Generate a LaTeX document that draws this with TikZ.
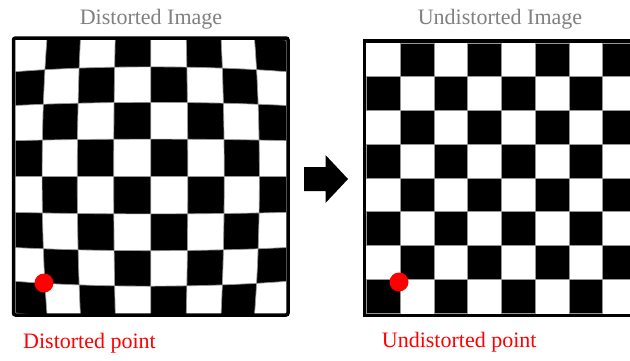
\documentclass[tikz,border=0pt]{standalone}
\usepackage{fontspec}
\setmainfont{Liberation Serif}
\newfontfamily\tnr{Liberation Serif}
\definecolor{titlegray}{RGB}{128,128,128}
\definecolor{cellgap}{RGB}{150,150,150}
\definecolor{ptred}{RGB}{255,0,0}
\begin{document}
\begin{tikzpicture}[x=1pt,y=-1pt,
  declare function={fd(\a,\b)=\a*(1-0.045*(\a*\a+\b*\b))/(1-0.09);},
  title/.style={font=\tnr\fontsize{22}{26}\selectfont, text=titlegray, inner sep=0pt, anchor=base},
  ptlabel/.style={font=\tnr\fontsize{22}{26}\selectfont, text=ptred, inner sep=0pt, anchor=base west},
  dot/.style={circle, fill=ptred, minimum size=19pt, inner sep=0pt},
  frameline/.style={line width=3.5pt, black},
  cell/.style={fill=black, draw=cellgap, line width=0.7pt},
  arrowshape/.style={fill=black}]
\useasboundingbox (0,0) rectangle (630,360);
\clip (0,0) rectangle (630,360);
\fill[white] (0,0) rectangle (630,360);
% distorted checkerboard
\begin{scope}
\clip (15.5,40) rectangle (286,313);
\foreach \i in {0,...,7}{
 \foreach \j in {0,...,7}{
  \pgfmathtruncatemacro\parity{mod(\i+\j,2)}
  \ifnum\parity=1
   \pgfmathsetmacro\ua{-1+0.25*\i}
   \pgfmathsetmacro\ub{\ua+0.25}
   \pgfmathsetmacro\va{-1+0.25*\j}
   \pgfmathsetmacro\vb{\va+0.25}
   \fill[cell] ({150.75+135.25*fd(\ua,\va)},{176.5+136.5*fd(\va,\ua)})
     \foreach \t in {0.0625,0.125,0.1875,0.25} { -- ({150.75+135.25*fd(\ua+\t,\va)},{176.5+136.5*fd(\va,\ua+\t)}) }
     \foreach \t in {0.0625,0.125,0.1875,0.25} { -- ({150.75+135.25*fd(\ub,\va+\t)},{176.5+136.5*fd(\va+\t,\ub)}) }
     \foreach \t in {0.0625,0.125,0.1875,0.25} { -- ({150.75+135.25*fd(\ub-\t,\vb)},{176.5+136.5*fd(\vb,\ub-\t)}) }
     \foreach \t in {0.0625,0.125,0.1875} { -- ({150.75+135.25*fd(\ua,\vb-\t)},{176.5+136.5*fd(\vb-\t,\ua)}) }
     -- cycle;
  \fi
 }}
\end{scope}
\draw[frameline, rounded corners=2pt] (13.5,38) rectangle (288,315);
% undistorted checkerboard
\foreach \i in {0,...,7}{
 \foreach \j in {0,...,7}{
  \pgfmathtruncatemacro\parity{mod(\i+\j,2)}
  \ifnum\parity=1
   \fill[cell] ({366.5+33.75*\i},{43+33.75*\j}) rectangle ++(33.75,33.75);
  \fi
 }}
\draw[frameline] (640,41) -- (364.5,41) -- (364.5,315.5) -- (640,315.5);
% arrow
\fill[arrowshape] (304,167) -- (325.5,167) -- (325.5,155) -- (348,179) -- (325.5,203) -- (325.5,191) -- (304,191) -- cycle;
% titles
\node[title] (t1) at (151,24) {Distorted Image};
\node[title] (t2) at (500,24) {Undistorted Image};
% points
\node[dot] (dp1) at (44,283) {};
\node[dot] (dp2) at (399,282) {};
\node[ptlabel] (l1) at (23,348) {Distorted point};
\node[ptlabel] (l2) at (381.7,347) {Undistorted point};
\end{tikzpicture}
\end{document}
